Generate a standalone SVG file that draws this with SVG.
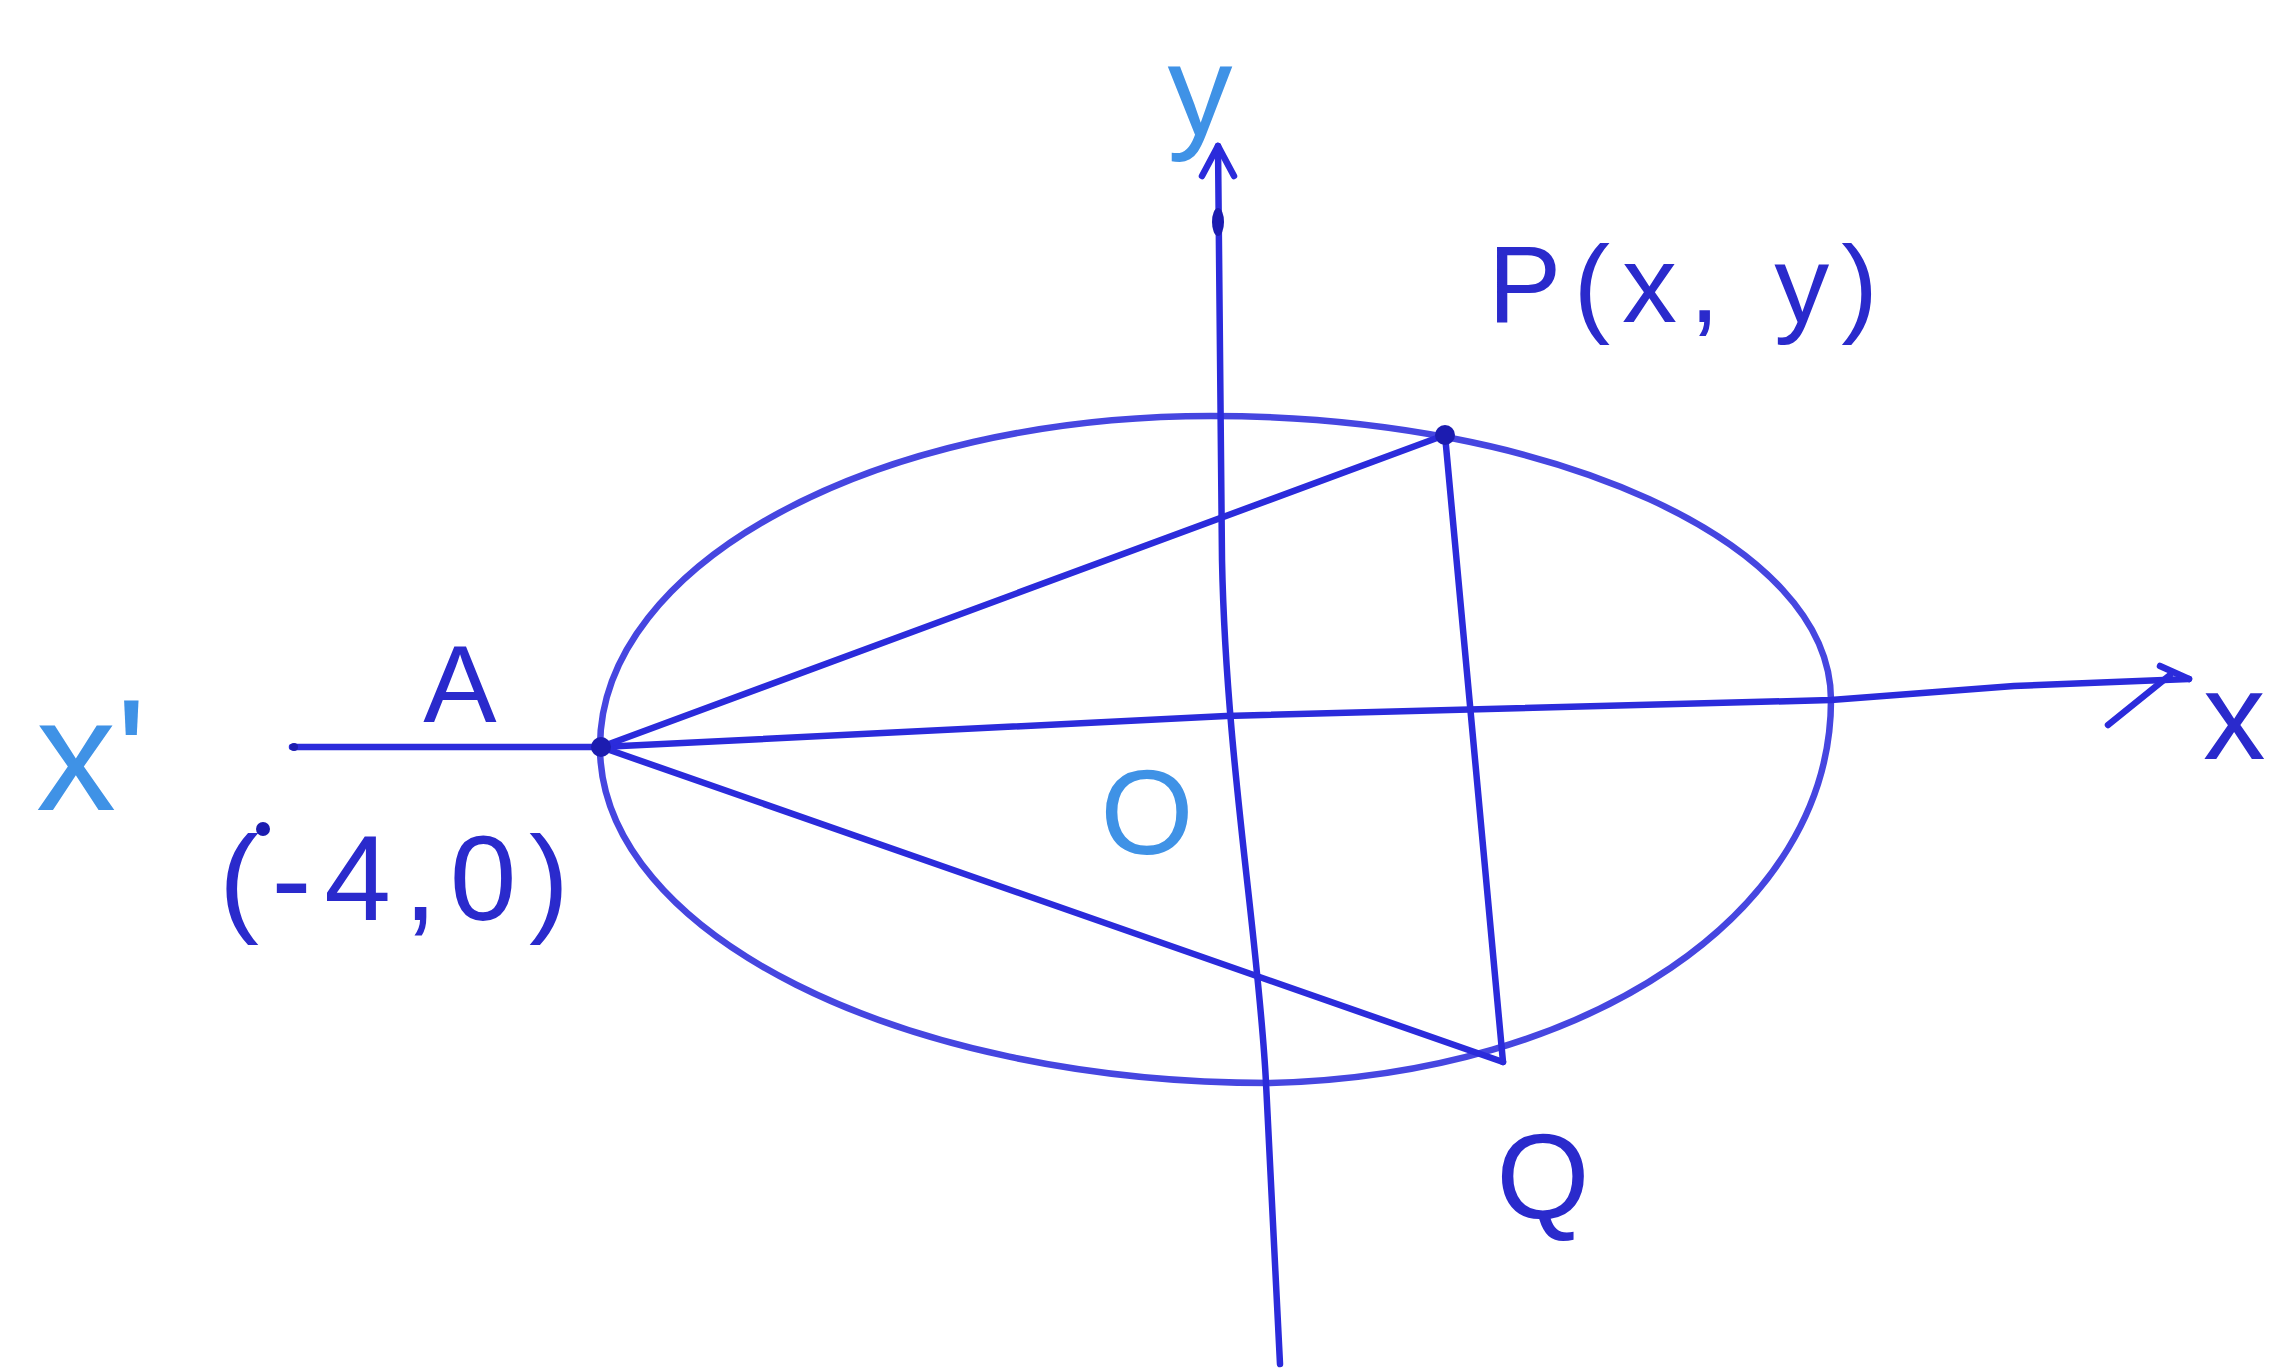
<svg xmlns="http://www.w3.org/2000/svg" width="2288" height="1372" viewBox="0 0 2288 1372">
<style>
.ln{fill:none;stroke:#2b2bdb;stroke-width:6.5;stroke-linecap:round;stroke-linejoin:round}
.el{fill:none;stroke:#4646e0;stroke-width:6.5}
.dk{font-family:"Liberation Sans",Arial,sans-serif;fill:#2a2acc}
.lt{font-family:"Liberation Sans",Arial,sans-serif;fill:#3f92e6}
.dot{fill:#1c1cb0}
</style>
<rect width="2288" height="1372" fill="#ffffff"/>
<g id="ellipse">
<path class="el" d="M600,747 C600,564 874,416 1211,416 C1553,416 1831,543 1831,700 C1831,912 1590,1075 1270,1083 C900,1083 600,933 600,747 Z"/>
</g>
<g id="connectors">
<path id="x-axis" class="ln" d="M292,747 L601,747 L1226,716 L1831,700 L2014,686 L2189,679"/>
<path id="x-arrow" class="ln" d="M2108,725 L2170,675 M2160,666 L2189,679"/>
<path id="y-axis" class="ln" d="M1218,146 L1222,560 C1226,760 1259,940 1266,1083 L1280,1364"/>
<path id="y-arrow" class="ln" d="M1202,176 L1218,146 L1234,176"/>
<ellipse cx="1218" cy="222" rx="6" ry="14" class="dot"/>
<line id="AP" class="ln" x1="601" y1="747" x2="1445" y2="435"/>
<line id="AQ" class="ln" x1="601" y1="747" x2="1503" y2="1062"/>
<line id="PQ" class="ln" x1="1445" y1="435" x2="1503" y2="1062"/>
</g>
<g id="node-A">
<circle cx="601" cy="747" r="10" class="dot"/>
<text class="dk" x="460" y="722" font-size="110" text-anchor="middle">A</text>
<circle cx="263" cy="829" r="7" class="dot"/>
<text class="dk" x="219" y="920" font-size="120" textLength="350" lengthAdjust="spacing">(-4,0)</text>
</g>
<g id="node-P">
<circle cx="1445" cy="435" r="10" class="dot"/>
<text class="dk" x="1488" y="322" font-size="110" textLength="390" lengthAdjust="spacing">P(x, y)</text>
</g>
<g id="node-Q">
<text class="dk" x="1543" y="1218" font-size="120" text-anchor="middle">Q</text>
</g>
<g id="node-O">
<text class="lt" x="1147" y="854" font-size="120" text-anchor="middle">O</text>
</g>
<g id="labels">
<text class="lt" x="1200" y="135" font-size="130" text-anchor="middle">y</text>
<text class="lt" x="36" y="810" font-size="160">x'</text>
<circle cx="294" cy="747" r="4" class="dot"/>
<text class="dk" x="2203" y="759" font-size="125">x</text>
</g>
</svg>
